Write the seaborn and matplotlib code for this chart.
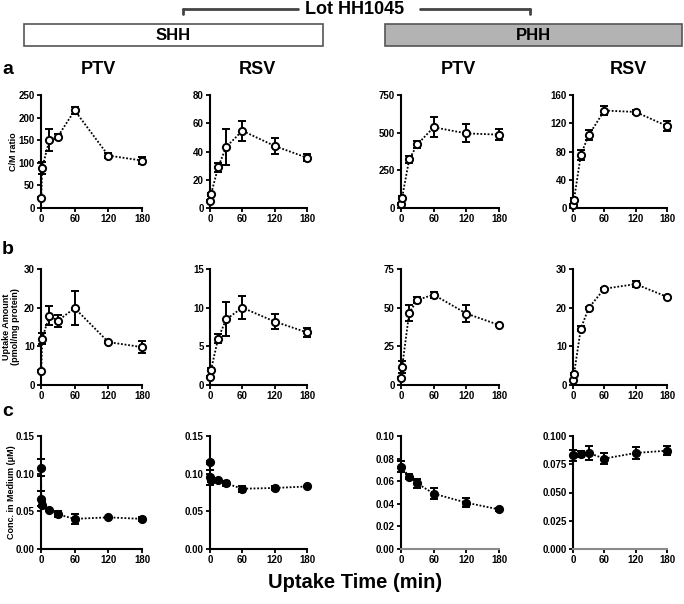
import numpy as np
import pandas as pd
import matplotlib
matplotlib.use("Agg")
import matplotlib.pyplot as plt
from matplotlib.patches import Rectangle
import seaborn as sns

# ---- data ------------------------------------------------------------------
t_ab = [0.5, 2, 15, 30, 60, 120, 180]
t_c_shh = [0, 0.5, 2, 15, 30, 60, 120, 180]
t_c_phh = [0, 15, 30, 60, 120, 180]

cm_shh_ptv = [23, 88, 151, 158, 216, 116, 105]
cm_shh_ptv_sd = [2, 13, 24, 5, 8, 6, 8]
cm_shh_rsv = [5.3, 9.8, 28.8, 43.2, 54.7, 43.9, 35.6]
cm_shh_rsv_sd = [0.5, 1, 3, 13, 7, 6, 2.5]
cm_phh_ptv = [25, 68, 322, 422, 536, 495, 487]
cm_phh_ptv_sd = [5, 10, 25, 22, 68, 60, 35]
cm_phh_rsv = [4.5, 12, 75.5, 103, 138, 136, 116]
cm_phh_rsv_sd = [1, 2, 7, 7, 7, 3, 7]

up_shh_ptv = [3.6, 12.0, 17.9, 16.6, 19.9, 11.1, 9.8]
up_shh_ptv_sd = [0.2, 1.5, 2.5, 1.5, 4.3, 0.3, 1.6]
up_shh_rsv = [1.0, 2.0, 6.0, 8.5, 10.0, 8.2, 6.8]
up_shh_rsv_sd = [0.1, 0.2, 0.6, 2.2, 1.5, 1.0, 0.6]
up_phh_ptv = [4.5, 11.5, 46.5, 55.0, 58.4, 46.2, 38.8]
up_phh_ptv_sd = [0.5, 4, 5, 2, 2, 5.5, 0.5]
up_phh_rsv = [1.3, 2.9, 14.6, 19.9, 24.9, 26.1, 22.8]
up_phh_rsv_sd = [0.1, 0.2, 0.7, 0.3, 0.3, 0.8, 0.3]

md_shh_ptv = [0.108, 0.067, 0.059, 0.052, 0.046, 0.040, 0.042, 0.040]
md_shh_ptv_sd = [0.011, 0.010, 0.003, 0.001, 0.004, 0.007, 0.001, 0.003]
md_shh_rsv = [0.115, 0.095, 0.092, 0.091, 0.087, 0.080, 0.081, 0.083]
md_shh_rsv_sd = [0.002, 0.010, 0.003, 0.001, 0.003, 0.004, 0.003, 0.001]
md_phh_ptv = [0.073, 0.064, 0.058, 0.049, 0.041, 0.035]
md_phh_ptv_sd = [0.005, 0.002, 0.004, 0.005, 0.004, 0.001]
md_phh_rsv = [0.083, 0.084, 0.085, 0.080, 0.085, 0.087]
md_phh_rsv_sd = [0.005, 0.003, 0.006, 0.005, 0.005, 0.004]

x_ticks = [0, 60, 120, 180]
col_titles = ["PTV", "RSV", "PTV", "RSV"]
row_letters = ["a", "b", "c"]
row_ylabels = ["C/M ratio", "Uptake Amount\n(pmol/mg protein)", "Conc. in Medium (\u03bcM)"]

panels = [
    # row a
    [(t_ab, cm_shh_ptv, cm_shh_ptv_sd, [0, 50, 100, 150, 200, 250], "{:.0f}"),
     (t_ab, cm_shh_rsv, cm_shh_rsv_sd, [0, 20, 40, 60, 80], "{:.0f}"),
     (t_ab, cm_phh_ptv, cm_phh_ptv_sd, [0, 250, 500, 750], "{:.0f}"),
     (t_ab, cm_phh_rsv, cm_phh_rsv_sd, [0, 40, 80, 120, 160], "{:.0f}")],
    # row b
    [(t_ab, up_shh_ptv, up_shh_ptv_sd, [0, 10, 20, 30], "{:.0f}"),
     (t_ab, up_shh_rsv, up_shh_rsv_sd, [0, 5, 10, 15], "{:.0f}"),
     (t_ab, up_phh_ptv, up_phh_ptv_sd, [0, 25, 50, 75], "{:.0f}"),
     (t_ab, up_phh_rsv, up_phh_rsv_sd, [0, 10, 20, 30], "{:.0f}")],
    # row c
    [(t_c_shh, md_shh_ptv, md_shh_ptv_sd, [0, 0.05, 0.10, 0.15], "{:.2f}"),
     (t_c_shh, md_shh_rsv, md_shh_rsv_sd, [0, 0.05, 0.10, 0.15], "{:.2f}"),
     (t_c_phh, md_phh_ptv, md_phh_ptv_sd, [0, 0.02, 0.04, 0.06, 0.08, 0.10], "{:.2f}"),
     (t_c_phh, md_phh_rsv, md_phh_rsv_sd, [0, 0.025, 0.05, 0.075, 0.10], "{:.3f}")],
]

# ---- layout (pixels) --------------------------------------------------------
W, H = 684, 604
col_x = [(41, 142), (210, 307), (401, 499), (573, 667)]
row_y = [(95, 208), (269, 385), (436, 549)]

sns.set_theme(style="ticks")
plt.rcParams["font.family"] = ["Liberation Sans", "DejaVu Sans"]
plt.rcParams["font.weight"] = "bold"
plt.rcParams["text.color"] = "black"
plt.rcParams["xtick.color"] = "black"
plt.rcParams["ytick.color"] = "black"
plt.rcParams["xtick.labelcolor"] = "black"
plt.rcParams["ytick.labelcolor"] = "black"

fig = plt.figure(figsize=(W / 100, H / 100), dpi=100)


def fx(x):
    return x / W


def fy(y):
    return 1 - y / H


for r in range(3):
    for c in range(4):
        x0, x1 = col_x[c]
        y0, y1 = row_y[r]
        ax = fig.add_axes([fx(x0), fy(y1), (x1 - x0) / W, (y1 - y0) / H])
        t, v, sd, yticks, fmt = panels[r][c]
        df = pd.DataFrame({"t": t, "v": v})
        face = "black" if r == 2 else "white"
        ax.errorbar(t, v, yerr=sd, fmt="none", ecolor="black", elinewidth=1.4,
                    capsize=3, capthick=1.4, clip_on=False, zorder=2)
        sns.lineplot(data=df, x="t", y="v", ax=ax, color="black", linestyle=(0, (1, 1)),
                     linewidth=1.3, marker="o", markersize=5.2, markerfacecolor=face,
                     markeredgecolor="black", markeredgewidth=1.4, clip_on=False, zorder=3)
        ax.set_xlim(0, 180)
        ax.set_ylim(0, yticks[-1])
        ax.set_xticks(x_ticks)
        ax.set_xticklabels([str(x) for x in x_ticks])
        ax.set_yticks(yticks)
        ax.set_yticklabels([fmt.format(y) for y in yticks])
        ax.set_xlabel("")
        ax.set_ylabel("")
        sns.despine(ax=ax)
        for s in ["left", "bottom"]:
            ax.spines[s].set_linewidth(1.5)
            ax.spines[s].set_color("black")
        if r == 2 and c >= 2:
            ax.spines["bottom"].set_color("#8a8a8a")
        ax.tick_params(axis="both", length=3, width=1.3, pad=1.5, labelsize=7,
                       colors="black")
        for lab in ax.get_xticklabels() + ax.get_yticklabels():
            lab.set_fontweight("bold")
        ax.patch.set_alpha(0)

# ---- header -----------------------------------------------------------------
fig.text(fx(355), fy(9), "Lot HH1045", ha="center", va="center", fontsize=13, fontweight="bold")
fig.add_artist(plt.Line2D([fx(183), fx(298)], [fy(9), fy(9)], color="#444444", lw=2))
fig.add_artist(plt.Line2D([fx(183), fx(183)], [fy(9), fy(14)], color="#444444", lw=2))
fig.add_artist(plt.Line2D([fx(420), fx(530)], [fy(9), fy(9)], color="#444444", lw=2))
fig.add_artist(plt.Line2D([fx(530), fx(530)], [fy(9), fy(14)], color="#444444", lw=2))

fig.add_artist(Rectangle((fx(24), fy(46)), (323 - 24) / W, 22 / H, facecolor="white",
                         edgecolor="#555555", lw=1.2))
fig.add_artist(Rectangle((fx(385), fy(46)), (682 - 385) / W, 22 / H, facecolor="#b3b3b3",
                         edgecolor="#555555", lw=1.2))
fig.text(fx(173), fy(35), "SHH", ha="center", va="center", fontsize=12, fontweight="bold")
fig.text(fx(533), fy(35), "PHH", ha="center", va="center", fontsize=12, fontweight="bold")

for cx, title in zip([98, 257, 458, 628], col_titles):
    fig.text(fx(cx), fy(69), title, ha="center", va="center", fontsize=13, fontweight="bold")

for ry, letter in zip([70, 250, 412], row_letters):
    fig.text(fx(8), fy(ry), letter, ha="center", va="center", fontsize=14, fontweight="bold")

for (y0, y1), lab, lx in zip(row_y, row_ylabels, [14, 11, 12]):
    fig.text(fx(lx), fy((y0 + y1) / 2), lab, ha="center", va="center", rotation=90,
             fontsize=6.5, fontweight="bold", linespacing=1.0)

fig.text(fx(355), fy(582), "Uptake Time (min)", ha="center", va="center", fontsize=14.5,
         fontweight="bold")

fig.savefig("out.png", dpi=100)
